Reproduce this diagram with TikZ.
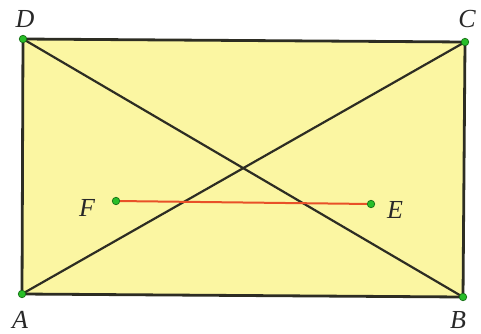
\documentclass[tikz,border=0pt]{standalone}
\usepackage{fontspec}
\setmainfont{Liberation Serif}
\begin{document}
\begin{tikzpicture}[x=1pt,y=-1pt,
  edge/.style={line width=2.8pt,draw=edgecol},
  diag/.style={line width=2.2pt,draw=edgecol},
  pt/.style={circle,fill=ptgreen,draw=ptdark,line width=0.7pt,inner sep=0pt,minimum size=7.5pt},
  lab/.style={font=\fontsize{26}{30}\selectfont\itshape,text=labcol}]
\definecolor{fillyel}{RGB}{251,246,162}
\definecolor{edgecol}{RGB}{45,45,35}
\definecolor{ptgreen}{RGB}{40,190,40}
\definecolor{ptdark}{RGB}{20,110,20}
\definecolor{redline}{RGB}{232,80,40}
\definecolor{labcol}{RGB}{40,40,40}
\useasboundingbox (0,0) rectangle (481,333);
\coordinate (A) at (22,294);
\coordinate (B) at (463,297);
\coordinate (C) at (465,42);
\coordinate (D) at (23,39);
\fill[fillyel] (A) -- (B) -- (C) -- (D) -- cycle;
\draw[diag] (A) -- (C);
\draw[diag] (D) -- (B);
\draw[edge,line join=miter] (A) -- (B) -- (C) -- (D) -- cycle;
\node[pt] (pF) at (116,201) {};
\node[pt] (pE) at (371,204) {};
\draw[redline,line width=2pt] (pF) -- (pE);
\node[pt] (pA) at (A) {};
\node[pt] (pB) at (B) {};
\node[pt] (pC) at (C) {};
\node[pt] (pD) at (D) {};
\node[lab] (lD) at (25,19) {D};
\node[lab] (lC) at (467,19) {C};
\node[lab] (lA) at (20,320) {A};
\node[lab] (lB) at (458,320) {B};
\node[lab] (lF) at (87,208) {F};
\node[lab] (lE) at (395,210) {E};
\end{tikzpicture}
\end{document}
